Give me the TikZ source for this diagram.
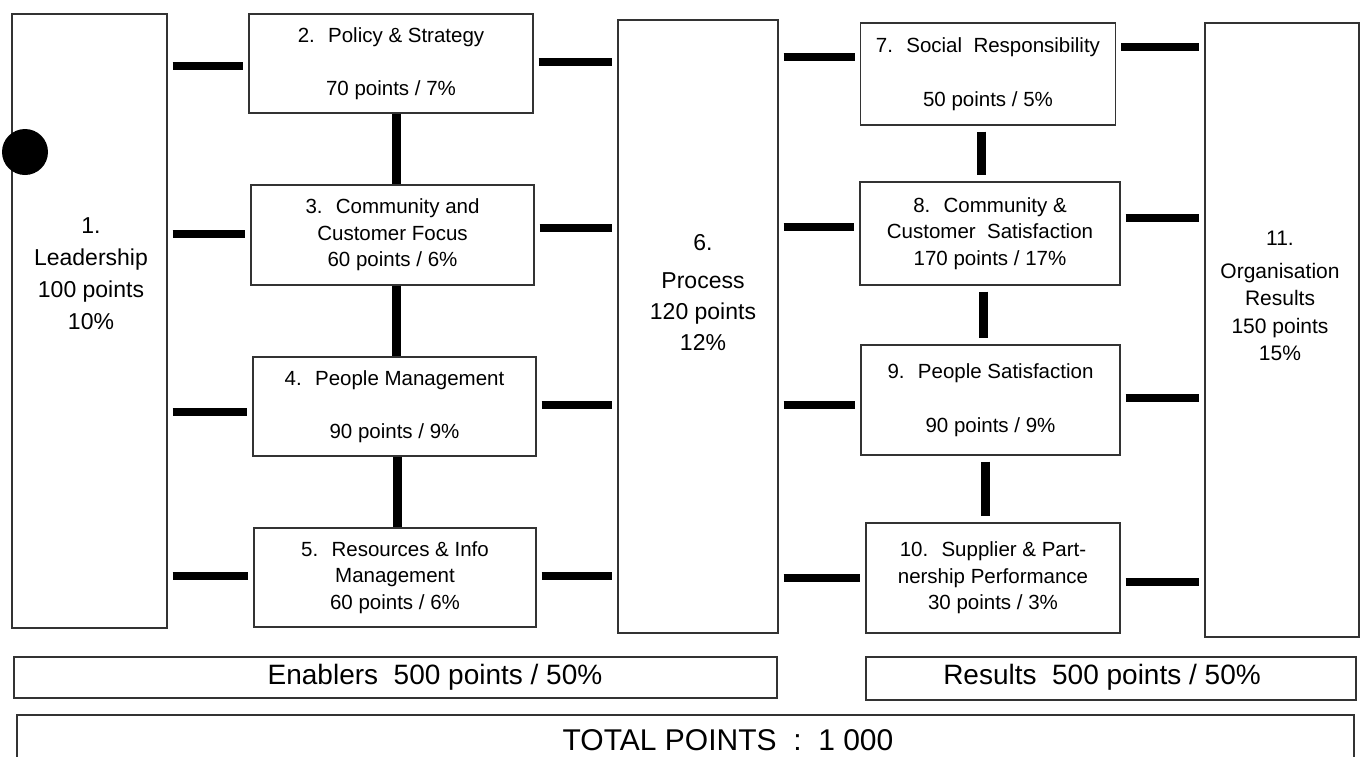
\documentclass[tikz,border=0pt]{standalone}
\usepackage{fontspec}
\setmainfont{Liberation Sans}
\newcommand\fsSmall{\fontsize{20.5}{26.5}\selectfont}
\newcommand\fsBig{\fontsize{23}{32}\selectfont}
\newcommand\fsSix{\fontsize{23}{31}\selectfont}
\newcommand\fsEleven{\fontsize{21}{27.5}\selectfont}
\newcommand\fsBand{\fontsize{28}{34}\selectfont}
\newcommand\fsTotal{\fontsize{30}{36}\selectfont}
\begin{document}
\begin{tikzpicture}[x=1pt,y=-1pt,
  box/.style={draw=black!80, line width=1.2pt, inner sep=0pt, align=center, font=\fsSmall},
  txt/.style={inner sep=0pt, align=center},
  hbar/.style={line width=8pt, line cap=butt, shorten <=5pt, shorten >=5pt},
  vbar/.style={line width=9pt, line cap=butt},
  vbarg/.style={line width=9pt, line cap=butt, shorten <=6pt, shorten >=6pt}]
\useasboundingbox (0,0) rectangle (1361,756);
\clip (0,0) rectangle (1361,756);
\fill[white] (0,0) rectangle (1361,756);

% big columns
\node[box, minimum width=155pt, minimum height=614pt] (b1) at (89.5,321) {};
\node[box, minimum width=160pt, minimum height=613pt] (b6) at (698,326.5) {};
\node[box, minimum width=154pt, minimum height=614pt] (b11) at (1282,330) {};
\node[txt, font=\fsBig] (t1) at (91,274) {1.\\Leadership\\100 points\\10\%};
\node[txt, font=\fsSix] (t6) at (703,293) {6.\\[7pt]Process\\120 points\\12\%};
\node[txt, font=\fsEleven] (t11) at (1280,296) {11.\\[5pt]Organisation\\Results\\150 points\\15\%};

% dot
\node[circle, fill=black, inner sep=0pt, minimum size=46pt] (dot) at (25,152) {};

% enablers column
\node[box, minimum width=284pt, minimum height=99pt] (b2) at (391,63.5) {2.~ Policy \& Strategy\\[27pt]70 points / 7\%};
\node[box, minimum width=283pt, minimum height=100pt] (b3) at (392.5,235) {3.~ Community and\\Customer Focus\\60 points / 6\%};
\node[box, minimum width=283pt, minimum height=99pt] (b4) at (394.5,406.5) {4.~ People Management\\[27pt]90 points / 9\%};
\node[box, minimum width=282pt, minimum height=99pt] (b5) at (395,577.5) {5.~ Resources \& Info\\Management\\60 points / 6\%};

% results column
\node[box, minimum width=255pt, minimum height=102pt] (b7) at (988,74) {7.~ Social~ Responsibility\\[27pt]50 points / 5\%};
\node[box, minimum width=260pt, minimum height=103pt] (b8) at (990,233.5) {8.~ Community \&\\Customer~ Satisfaction\\170 points / 17\%};
\node[box, minimum width=259pt, minimum height=110pt] (b9) at (990.5,400) {9.~ People Satisfaction\\[27pt]90 points / 9\%};
\node[box, minimum width=254pt, minimum height=110pt] (b10) at (993,578) {10.~ Supplier \& Part-\\nership Performance\\30 points / 3\%};

% bands
\node[box, minimum width=763pt, minimum height=41pt] (en) at (395.5,677.5) {};
\node[box, minimum width=490pt, minimum height=43pt] (re) at (1111,678.5) {};
\node[box, minimum width=1337pt, minimum height=85pt] (tot) at (685.5,757.5) {};
\node[txt, font=\fsBand, anchor=base] (ten) at (435,684) {Enablers~ 500 points / 50\%};
\node[txt, font=\fsBand, anchor=base] (tre) at (1102,684) {Results~ 500 points / 50\%};
\node[txt, font=\fsTotal, anchor=base] (ttot) at (728,750) {TOTAL POINTS~ :~ 1 000};

% bars: leadership to enablers
\draw[hbar] (b1.east |- 0,66) -- (b2.west |- 0,66);
\draw[hbar] (b1.east |- 0,234) -- (b3.west |- 0,234);
\draw[hbar] (b1.east |- 0,412) -- (b4.west |- 0,412);
\draw[hbar] (b1.east |- 0,576) -- (b5.west |- 0,576);
% enablers to process
\draw[hbar] (b2.east |- 0,62) -- (b6.west |- 0,62);
\draw[hbar] (b3.east |- 0,228) -- (b6.west |- 0,228);
\draw[hbar] (b4.east |- 0,405) -- (b6.west |- 0,405);
\draw[hbar] (b5.east |- 0,576) -- (b6.west |- 0,576);
% process to results
\draw[hbar] (b6.east |- 0,57) -- (b7.west |- 0,57);
\draw[hbar] (b6.east |- 0,227) -- (b8.west |- 0,227);
\draw[hbar] (b6.east |- 0,405) -- (b9.west |- 0,405);
\draw[hbar] (b6.east |- 0,578) -- (b10.west |- 0,578);
% results to organisation results
\draw[hbar] (b7.east |- 0,47) -- (b11.west |- 0,47);
\draw[hbar] (b8.east |- 0,218) -- (b11.west |- 0,218);
\draw[hbar] (b9.east |- 0,398) -- (b11.west |- 0,398);
\draw[hbar] (b10.east |- 0,582) -- (b11.west |- 0,582);
% vertical bars
\draw[vbar] (b2.south -| 396,0) -- (b3.north -| 396,0);
\draw[vbar] (b3.south -| 396,0) -- (b4.north -| 396,0);
\draw[vbar] (b4.south -| 397,0) -- (b5.north -| 397,0);
\draw[vbarg] (b7.south -| 981,0) -- (b8.north -| 981,0);
\draw[vbarg] (b8.south -| 983,0) -- (b9.north -| 983,0);
\draw[vbarg] (b9.south -| 985,0) -- (b10.north -| 985,0);
\end{tikzpicture}
\end{document}
